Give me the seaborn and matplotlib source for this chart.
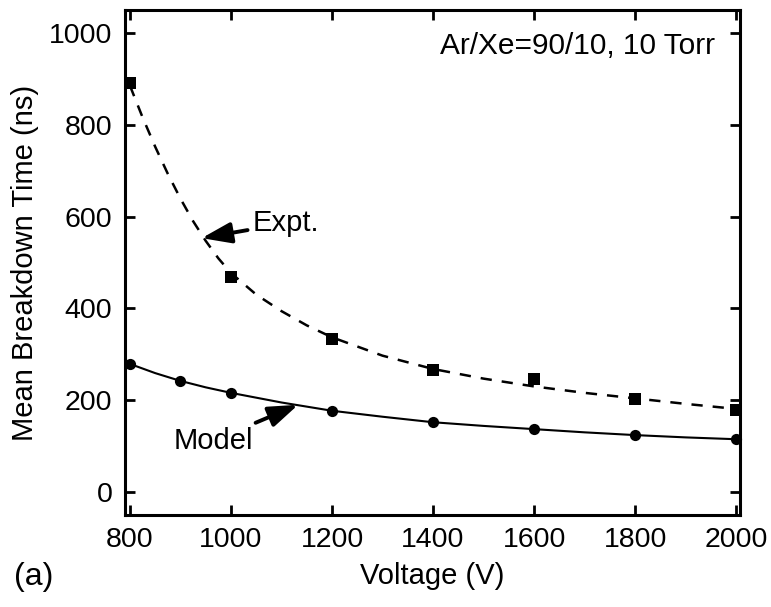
import matplotlib
matplotlib.use("Agg")
import matplotlib.pyplot as plt
import seaborn as sns
import pandas as pd

# Measured breakdown times (squares) and model results (circles)
expt_voltage = [800, 1000, 1200, 1400, 1600, 1800, 2000]
expt_time = [891, 468, 333, 266, 246, 203, 179]

model_voltage = [800, 900, 1000, 1200, 1400, 1600, 1800, 2000]
model_time = [279, 242, 216, 176, 152, 137, 124, 115]

# Fitted trend through the measurements (dashed)
fit_voltage = [800, 825, 850, 875, 900, 925, 950, 975, 1000, 1050, 1100, 1150, 1200,
               1300, 1400, 1500, 1600, 1700, 1800, 1900, 2000]
fit_time = [885, 816, 752, 693, 639, 590, 547, 509, 477, 430, 394, 363, 337,
            297, 268, 247, 230, 216, 204, 192, 181]

# Model trend curve (solid)
curve_voltage = [800, 850, 900, 950, 1000, 1100, 1200, 1300, 1400, 1500, 1600,
                 1700, 1800, 1900, 2000]
curve_time = [279, 259, 242, 228, 216, 195, 177, 164, 152, 144, 137, 130, 124, 119, 115]

x_ticks = [800, 1000, 1200, 1400, 1600, 1800, 2000]
y_ticks = [0, 200, 400, 600, 800, 1000]

sns.set_style("ticks")
plt.rcParams["font.family"] = ["Liberation Sans", "DejaVu Sans"]
plt.rcParams["text.color"] = "black"
plt.rcParams["axes.labelcolor"] = "black"
plt.rcParams["xtick.color"] = "black"
plt.rcParams["ytick.color"] = "black"

expt_df = pd.DataFrame({"Voltage": expt_voltage, "Time": expt_time})
model_df = pd.DataFrame({"Voltage": model_voltage, "Time": model_time})
fit_df = pd.DataFrame({"Voltage": fit_voltage, "Time": fit_time})
curve_df = pd.DataFrame({"Voltage": curve_voltage, "Time": curve_time})

fig = plt.figure(figsize=(7.71, 6.07), dpi=100)
ax = fig.add_axes([0.162, 0.1516, 0.798, 0.832])

sns.lineplot(data=fit_df, x="Voltage", y="Time", ax=ax, color="black",
             linewidth=1.8, linestyle=(0, (4.5, 4)), sort=True, estimator=None)
sns.lineplot(data=curve_df, x="Voltage", y="Time", ax=ax, color="black",
             linewidth=1.5, sort=True, estimator=None)
sns.scatterplot(data=expt_df, x="Voltage", y="Time", ax=ax, marker="s",
                s=80, color="black", edgecolor="black", linewidth=0, zorder=5,
                clip_on=False)
sns.scatterplot(data=model_df, x="Voltage", y="Time", ax=ax, marker="o",
                s=65, color="black", edgecolor="black", linewidth=0, zorder=5,
                clip_on=False)

ax.set_xlim(790, 2008)
ax.set_ylim(-50, 1050)
ax.set_xticks(x_ticks)
ax.set_yticks(y_ticks)

for side in ["left", "right", "top", "bottom"]:
    ax.spines[side].set_visible(True)
    ax.spines[side].set_linewidth(2.2)
    ax.spines[side].set_color("black")

ax.tick_params(direction="in", length=7, width=2, colors="black",
               top=True, right=True, labelsize=20.5)
ax.tick_params(axis="x", pad=9)
ax.tick_params(axis="y", pad=9)

ax.set_xlabel("Voltage (V)", fontsize=21, labelpad=6)
ax.set_ylabel("Mean Breakdown Time (ns)", fontsize=21, labelpad=7)

ax.text(0.959, 0.957, "Ar/Xe=90/10, 10 Torr", transform=ax.transAxes,
        ha="right", va="top", fontsize=21.5)

arrow_style = dict(arrowstyle="-|>,head_length=0.85,head_width=0.3",
                   color="black", linewidth=2.8, shrinkA=1, shrinkB=0)
ax.annotate("Expt.", xy=(942, 553), xytext=(1042, 585),
            fontsize=21, ha="left", va="center", arrowprops=arrow_style)
ax.annotate("Model", xy=(1133, 190), xytext=(1044, 112),
            fontsize=21, ha="right", va="center", arrowprops=arrow_style)

fig.text(0.018, 0.05, "(a)", fontsize=23, ha="left", va="center")

fig.savefig("out.png", dpi=100)
